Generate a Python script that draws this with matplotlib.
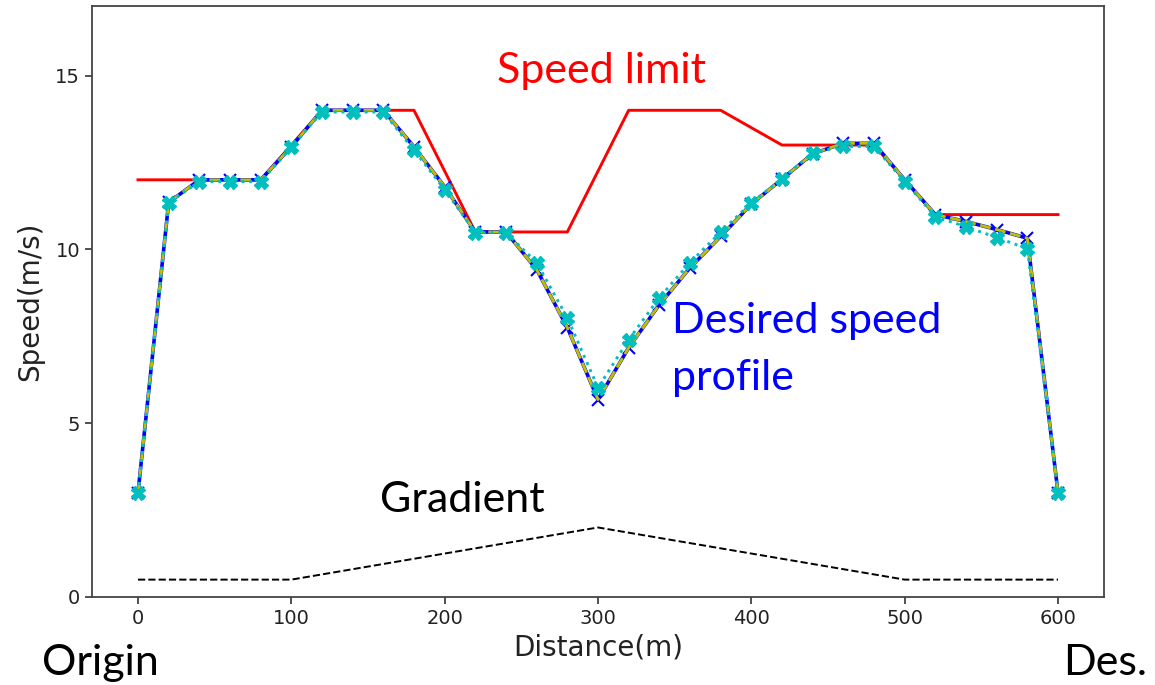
import numpy as np
import matplotlib.pyplot as plt

# ============================================================
# Data
# ============================================================
distance = [0, 20, 40, 60, 80, 100, 120, 140, 160, 180, 200, 220, 240, 260, 280, 300,
            320, 340, 360, 380, 400, 420, 440, 460, 480, 500, 520, 540, 560, 580, 600]

speed_blue = [3.0, 11.35, 12.0, 12.0, 12.0, 12.95, 14.0, 14.0, 14.0, 12.95, 11.8, 10.5, 10.5,
              9.42, 7.75, 5.68, 7.17, 8.41, 9.47, 10.37, 11.3, 12.02, 12.75, 13.05, 13.05,
              12.0, 11.0, 10.8, 10.57, 10.32, 3.0]
speed_yellow = [3.0, 11.35, 12.0, 12.0, 12.0, 12.95, 14.0, 14.0, 14.0, 12.95, 11.8, 10.5, 10.5,
                9.42, 7.75, 5.68, 7.17, 8.41, 9.47, 10.37, 11.3, 12.02, 12.75, 13.05, 13.05,
                12.0, 11.0, 10.8, 10.57, 10.32, 3.0]
speed_cyan = [3.0, 11.34, 11.95, 11.95, 11.95, 12.93, 13.95, 13.95, 13.95, 12.85, 11.72, 10.48, 10.48,
              9.62, 8.03, 6.02, 7.40, 8.61, 9.62, 10.5, 11.34, 12.03, 12.78, 12.96, 12.96,
              11.95, 10.94, 10.65, 10.34, 10.02, 3.0]

limit_x = [0, 80, 120, 180, 220, 280, 320, 380, 420, 480, 520, 600]
limit_v = [12, 12, 14, 14, 10.5, 10.5, 14, 14, 13, 13, 11, 11]

grad_x = [0, 100, 300, 500, 600]
grad_v = [0.5, 0.5, 2.0, 0.5, 0.5]

W, H = 1155, 685

# ============================================================
# Plot
# ============================================================
fig = plt.figure(figsize=(W / 100, H / 100), dpi=100)
ax = fig.add_axes([92 / W, 1 - 597 / H, (1104 - 92) / W, (597 - 6) / H])

ax.plot(limit_x, limit_v, "r-", lw=2.1)
ax.plot(grad_x, grad_v, "k--", lw=1.4)
ax.plot(distance, speed_blue, "bx-", lw=2.6, ms=8.5, mew=1.5)
ax.plot(distance, speed_yellow, "y--", lw=2.1)
ax.plot(distance, speed_cyan, "cX:", lw=2.1, ms=9.5)

ax.set_xlim(-30, 630)
ax.set_ylim(0, 17)
ax.set_xticks([0, 100, 200, 300, 400, 500, 600])
ax.set_yticks([0, 5, 10, 15])
ax.tick_params(labelsize=14, length=5, width=1.1, colors="#222222")
for s in ax.spines.values():
    s.set_linewidth(1.3)
    s.set_color("#444444")

ax.set_xlabel("Distance(m)", fontsize=20, color="#222222", labelpad=4)
ax.set_ylabel("Speed(m/s)", fontsize=20, color="#222222", labelpad=8)

# overlay annotations (pixel positions -> figure fraction)
def ftext(x, y, s, color, size=31):
    fig.text(x / W, 1 - y / H, s, color=color, fontsize=size, family="Lato",
             ha="left", va="baseline")

ftext(497, 83, "Speed limit", "red")
ftext(672, 333, "Desired speed", "blue")
ftext(672, 390, "profile", "blue")
ftext(380, 512, "Gradient", "black")
ftext(42, 675, "Origin", "black")
ftext(1063, 675, "Des.", "black")

fig.savefig("out.png", dpi=100)
